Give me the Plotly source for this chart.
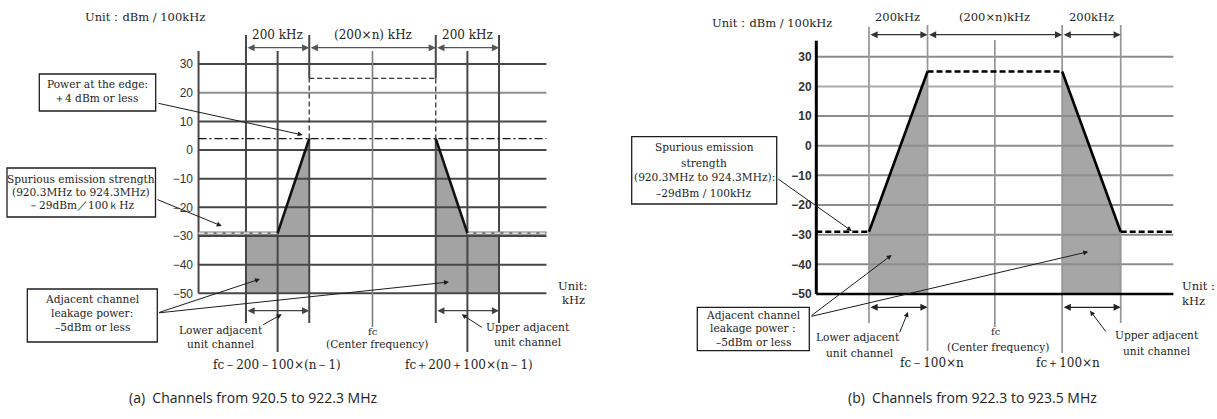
import plotly.graph_objects as go

W, H = 1217, 419

# ---------------- data ----------------
LEVELS = [30, 20, 10, 0, -10, -20, -30, -40, -50]          # dBm / 100 kHz
LEVEL_TEXT = ["30", "20", "10", "0", "−10", "−20", "−30", "−40", "−50"]
FLOOR = -50

# (a) channels 920.5–922.3 MHz, offsets from fc in kHz (n = 2)
A_EDGES = [-400, -300, -200, 0, 200, 300, 400]
A_SPAN = 550
A_CARRIER = 25
A_EDGE_PWR = 4
A_SPUR = -29

# (b) channels 922.3–923.5 MHz, offsets from fc in kHz
B_EDGES = [-430, -230, 0, 230, 430]
B_SPAN = 610
B_CARRIER = 25
B_SPUR = -29

# ---------------- panel geometry (pixels) ----------------
GEO = {
    "a": dict(xdom=(0.0, 0.5), cx=372.5, kx=0.3163, y_floor=293.3, ky=2.865),
    "b": dict(xdom=(0.5, 1.0), cx=994.85, kx=0.2927, y_floor=294.0, ky=2.966),
}


def x_range(g):
    p0, p1 = g["xdom"][0] * W, g["xdom"][1] * W
    return [(p0 - g["cx"]) / g["kx"], (p1 - g["cx"]) / g["kx"]]


def y_range(g):
    return [FLOOR - (H - g["y_floor"]) / g["ky"], FLOOR + g["y_floor"] / g["ky"]]


def ydb(panel, py):
    g = GEO[panel]
    return FLOOR + (g["y_floor"] - py) / g["ky"]


SERIF = "DejaVu Serif"
SANS = "Liberation Sans"
INK = "#1e1e1e"
DARK = "#474747"
MID = "#8a8a8a"

fig = go.Figure()


def segs(pairs):
    xs, ys = [], []
    for (x0, y0, x1, y1) in pairs:
        xs += [x0, x1, None]
        ys += [y0, y1, None]
    return xs, ys


def add_lines(panel, pairs, color, width, dash="solid"):
    xs, ys = segs(pairs)
    ax = "x" if panel == "a" else "x2"
    ay = "y" if panel == "a" else "y2"
    fig.add_trace(go.Scatter(x=xs, y=ys, mode="lines", xaxis=ax, yaxis=ay,
                             line=dict(color=color, width=width, dash=dash),
                             hoverinfo="skip", showlegend=False))


def add_fill(panel, xs, ys, color):
    ax = "x" if panel == "a" else "x2"
    ay = "y" if panel == "a" else "y2"
    fig.add_trace(go.Scatter(x=xs, y=ys, mode="lines", fill="toself", fillcolor=color,
                             xaxis=ax, yaxis=ay, line=dict(width=0, color=color),
                             hoverinfo="skip", showlegend=False))


# ================= panel (a) =================
lo_x = [A_EDGES[0], A_EDGES[1], A_EDGES[2]]
lo_y = [A_SPUR, A_SPUR, A_EDGE_PWR]
up_x = [A_EDGES[4], A_EDGES[5], A_EDGES[6]]
up_y = [A_EDGE_PWR, A_SPUR, A_SPUR]

add_fill("a", [lo_x[0]] + lo_x + [lo_x[-1], lo_x[0]], [FLOOR] + lo_y + [FLOOR, FLOOR], "#a3a3a3")
add_fill("a", [up_x[0]] + up_x + [up_x[-1], up_x[0]], [FLOOR] + up_y + [FLOOR, FLOOR], "#a3a3a3")

# horizontal grid
add_lines("a", [(-A_SPAN, v, A_SPAN, v) for v in LEVELS if v != 20], DARK, 2)
add_lines("a", [(-A_SPAN, 20, A_SPAN, 20)], "#8e8e8e", 2)
# left frame
add_lines("a", [(-A_SPAN, ydb("a", 51), -A_SPAN, FLOOR)], DARK, 2)
# vertical grid / guide lines
top_long, top_short = ydb("a", 35), ydb("a", 51)
vert = [
    (A_EDGES[0], top_long, A_EDGES[0], ydb("a", 323)),
    (A_EDGES[6], top_long, A_EDGES[6], ydb("a", 323)),
    (A_EDGES[1], top_short, A_EDGES[1], ydb("a", 352)),
    (A_EDGES[5], top_short, A_EDGES[5], ydb("a", 352)),
    (A_EDGES[2], top_long, A_EDGES[2], A_CARRIER),
    (A_EDGES[4], top_long, A_EDGES[4], A_CARRIER),
    (A_EDGES[2], A_EDGE_PWR, A_EDGES[2], ydb("a", 323)),
    (A_EDGES[4], A_EDGE_PWR, A_EDGES[4], ydb("a", 323)),
]
add_lines("a", vert, DARK, 2)
add_lines("a", [(A_EDGES[3], top_short, A_EDGES[3], ydb("a", 327))], "#7c7c7c", 1.6)
# in-band carrier level (dashed)
add_lines("a", [(A_EDGES[2], A_EDGE_PWR, A_EDGES[2], A_CARRIER),
                (A_EDGES[2], A_CARRIER, A_EDGES[4], A_CARRIER),
                (A_EDGES[4], A_CARRIER, A_EDGES[4], A_EDGE_PWR)], "#333333", 1.3, "5px,3px")
# power at the edge (dash-dot)
add_lines("a", [(-A_SPAN, A_EDGE_PWR, A_SPAN, A_EDGE_PWR)], "#111111", 1.3, "8px,3px,2px,3px")
# spurious level
spur_a = [(-A_SPAN, A_SPUR, A_EDGES[1], A_SPUR), (A_EDGES[5], A_SPUR, A_SPAN, A_SPUR)]
add_lines("a", spur_a, "#7a7a7a", 3.2)
add_lines("a", spur_a, "#ffffff", 1.2, "6px,3px")
# mask slopes
add_lines("a", [(lo_x[1], lo_y[1], lo_x[2], lo_y[2]), (up_x[0], up_y[0], up_x[1], up_y[1])], "#111111", 2.6)

# ================= panel (b) =================
b_lo_x = [B_EDGES[0], B_EDGES[1]]
b_lo_y = [B_SPUR, B_CARRIER]
b_up_x = [B_EDGES[3], B_EDGES[4]]
b_up_y = [B_CARRIER, B_SPUR]
add_fill("b", [b_lo_x[0]] + b_lo_x + [b_lo_x[-1], b_lo_x[0]], [FLOOR] + b_lo_y + [FLOOR, FLOOR], "#a6a6a6")
add_fill("b", [b_up_x[0]] + b_up_x + [b_up_x[-1], b_up_x[0]], [FLOOR] + b_up_y + [FLOOR, FLOOR], "#a6a6a6")

add_lines("b", [(-B_SPAN, v, B_SPAN, v) for v in LEVELS if v not in (FLOOR, 20)], "#8c8c8c", 2)
add_lines("b", [(-B_SPAN, 20, B_SPAN, 20)], "#ababab", 2)
vb = [
    (B_EDGES[0], ydb("b", 26.7), B_EDGES[0], ydb("b", 323)),
    (B_EDGES[4], ydb("b", 25), B_EDGES[4], ydb("b", 323)),
    (B_EDGES[1], ydb("b", 25), B_EDGES[1], ydb("b", 351)),
    (B_EDGES[3], ydb("b", 25), B_EDGES[3], ydb("b", 353)),
    (B_EDGES[2], ydb("b", 40), B_EDGES[2], ydb("b", 327)),
]
add_lines("b", vb, "#959595", 1.7)
add_lines("b", [(-B_SPAN, FLOOR, B_SPAN, FLOOR)], "#000000", 2.6)
add_lines("b", [(-B_SPAN, ydb("b", 40.7), -B_SPAN, FLOOR)], "#000000", 3)
# mask
add_lines("b", [(-B_SPAN, B_SPUR, B_EDGES[0], B_SPUR),
                (B_EDGES[1], B_CARRIER, B_EDGES[3], B_CARRIER),
                (B_EDGES[4], B_SPUR, B_SPAN, B_SPUR)], "#000000", 2.6, "6px,3px")
add_lines("b", [(b_lo_x[0], b_lo_y[0], b_lo_x[1], b_lo_y[1]),
                (b_up_x[0], b_up_y[0], b_up_x[1], b_up_y[1])], "#000000", 2.6)

# ================= annotations =================
annotations = []
shapes = []


def label(px, py, text, size=10.6, family=SERIF, xanchor="center", color=INK):
    annotations.append(dict(xref="paper", yref="paper", x=px / W, y=1 - py / H, text=text,
                            showarrow=False, xanchor=xanchor, yanchor="middle",
                            font=dict(family=family, size=size, color=color)))


def pointer(tail, head, width=1.0, size=1.0):
    annotations.append(dict(xref="paper", yref="paper", x=head[0] / W, y=1 - head[1] / H,
                            ax=tail[0] - head[0], ay=tail[1] - head[1], axref="pixel", ayref="pixel",
                            text="", showarrow=True, arrowhead=2, arrowsize=size,
                            arrowwidth=width, arrowcolor=INK, standoff=0, startstandoff=0))


def span_arrow(panel, x0, x1, py, color="#555555"):
    xr = "x" if panel == "a" else "x2"
    yr = "y" if panel == "a" else "y2"
    y = ydb(panel, py)
    annotations.append(dict(xref=xr, yref=yr, x=x1, y=y, ax=x0, ay=y, axref=xr, ayref=yr,
                            text="", showarrow=True, arrowside="end+start", arrowhead=2,
                            arrowsize=1.1, arrowwidth=1.3, arrowcolor=color,
                            standoff=0, startstandoff=0))


def box(x0, y0, x1, y1):
    shapes.append(dict(type="rect", xref="paper", yref="paper", x0=x0 / W, x1=x1 / W,
                       y0=1 - y1 / H, y1=1 - y0 / H, line=dict(color=INK, width=1.3),
                       fillcolor="white", layer="above"))


# ---- panel (a) texts ----
label(145, 17, "Unit：dBm / 100kHz", 11.5)
span_arrow("a", A_EDGES[0], A_EDGES[2], 47.7)
span_arrow("a", A_EDGES[2], A_EDGES[4], 47.7)
span_arrow("a", A_EDGES[4], A_EDGES[6], 47.7)
label(277.5, 35, "200 kHz", 12)
label(372.7, 35, "(200×n) kHz", 12)
label(467.5, 35, "200 kHz", 12)
span_arrow("a", A_EDGES[0], A_EDGES[2], 310.7, "#444444")
span_arrow("a", A_EDGES[4], A_EDGES[6], 310.7, "#444444")

box(39.3, 74, 155.7, 111)
label(97.5, 84, "Power at the edge:")
label(96, 98, "＋4 dBm or less")
pointer((157, 103), (302.7, 135))

box(7, 168, 155.5, 217)
label(81, 179, "Spurious emission strength")
label(81, 192, "(920.3MHz to 924.3MHz)")
label(81, 205, "－29dBm／100ｋHz")
pointer((156, 199), (221.7, 226))

box(27.3, 289, 157.3, 342)
label(92, 299.3, "Adjacent channel")
label(92, 313, "leakage power:")
label(92, 327, "–5dBm or less")
pointer((157.5, 313), (260, 279))
pointer((157.5, 313), (449, 282))

label(221, 330, "Lower adjacent")
label(221, 343.5, "unit channel")
pointer((261.7, 325.5), (281.7, 314.3))
label(372.5, 331, "fc", 10)
label(377, 343.5, "(Center frequency)")
label(527.5, 326.7, "Upper adjacent")
label(527.5, 342.3, "unit channel")
pointer((483.3, 328.3), (461.7, 314.3))
label(277, 365, "fc－200－100×(n－1)", 12)
label(469, 365, "fc＋200＋100×(n－1)", 12)
label(572.5, 286, "Unit:", 11.5)
label(573, 300, "kHz", 11.5)
label(253, 397, "(a)  Channels from 920.5 to 922.3 MHz", 14, "Open Sans", color="#222222")

# ---- panel (b) texts ----
label(772, 22.7, "Unit：dBm / 100kHz", 11.5)
span_arrow("b", B_EDGES[0], B_EDGES[1], 34.7, "#333333")
span_arrow("b", B_EDGES[1], B_EDGES[3], 34.7, "#333333")
span_arrow("b", B_EDGES[3], B_EDGES[4], 34.7, "#333333")
label(898, 17.3, "200kHz", 11.5)
label(994, 17.3, "(200×n)kHz", 11.5)
label(1091.5, 17.3, "200kHz", 11.5)
span_arrow("b", B_EDGES[0], B_EDGES[1], 307.3, "#222222")
span_arrow("b", B_EDGES[3], B_EDGES[4], 307.3, "#222222")

box(631.7, 136.7, 776.7, 204)
label(704, 146.7, "Spurious emission")
label(704, 162.7, "strength")
label(704, 177.3, "(920.3MHz to 924.3MHz):")
label(704, 192.7, "–29dBm / 100kHz")
pointer((776.7, 178), (851.7, 231))

box(697.3, 307.3, 809.3, 350.7)
label(753, 315, "Adjacent channel")
label(753, 328.3, "leakage power :")
label(753, 341.7, "–5dBm or less")
pointer((810, 316.7), (891.7, 255))
pointer((810, 316.7), (1088.3, 251.7))

label(858, 337.3, "Lower adjacent")
label(860, 353.3, "unit channel")
pointer((899, 334), (908, 312))
label(995.7, 331.7, "fc", 10)
label(998, 346.7, "(Center frequency)")
label(932, 362.7, "fc－100×n", 12)
label(1068, 362.7, "fc＋100×n", 12)
label(1157, 335, "Upper adjacent")
label(1157, 350.7, "unit channel")
pointer((1107, 333), (1090, 310.7))
label(1180, 286, "Unit :", 11.5, xanchor="left")
label(1180, 300.7, "kHz", 11.5, xanchor="left")
label(972, 397, "(b)  Channels from 922.3 to 923.5 MHz", 14, "Open Sans", color="#222222")

# ================= layout =================
tick_font = dict(family=SANS, size=12, color="#333333")
fig.update_layout(
    width=W, height=H, margin=dict(l=0, r=0, t=0, b=0),
    paper_bgcolor="white", plot_bgcolor="rgba(0,0,0,0)",
    showlegend=False, hovermode=False,
    xaxis=dict(domain=list(GEO["a"]["xdom"]), range=x_range(GEO["a"]), visible=False, anchor="y"),
    yaxis=dict(domain=[0, 1], range=y_range(GEO["a"]), anchor="free", position=199 / W,
               tickvals=LEVELS, ticktext=LEVEL_TEXT, ticks="", ticklen=0, ticklabelstandoff=6,
               showgrid=False, zeroline=False, showline=False, tickfont=tick_font),
    xaxis2=dict(domain=list(GEO["b"]["xdom"]), range=x_range(GEO["b"]), visible=False, anchor="y2"),
    yaxis2=dict(domain=[0, 1], range=y_range(GEO["b"]), anchor="free", position=816.7 / W,
                tickvals=LEVELS, ticktext=LEVEL_TEXT, ticks="", ticklen=0, ticklabelstandoff=5,
                showgrid=False, zeroline=False, showline=False,
                tickfont=dict(family=SANS, size=12, color="#333333", weight="bold")),
    annotations=annotations,
    shapes=shapes,
)

fig.write_html("out.html")
